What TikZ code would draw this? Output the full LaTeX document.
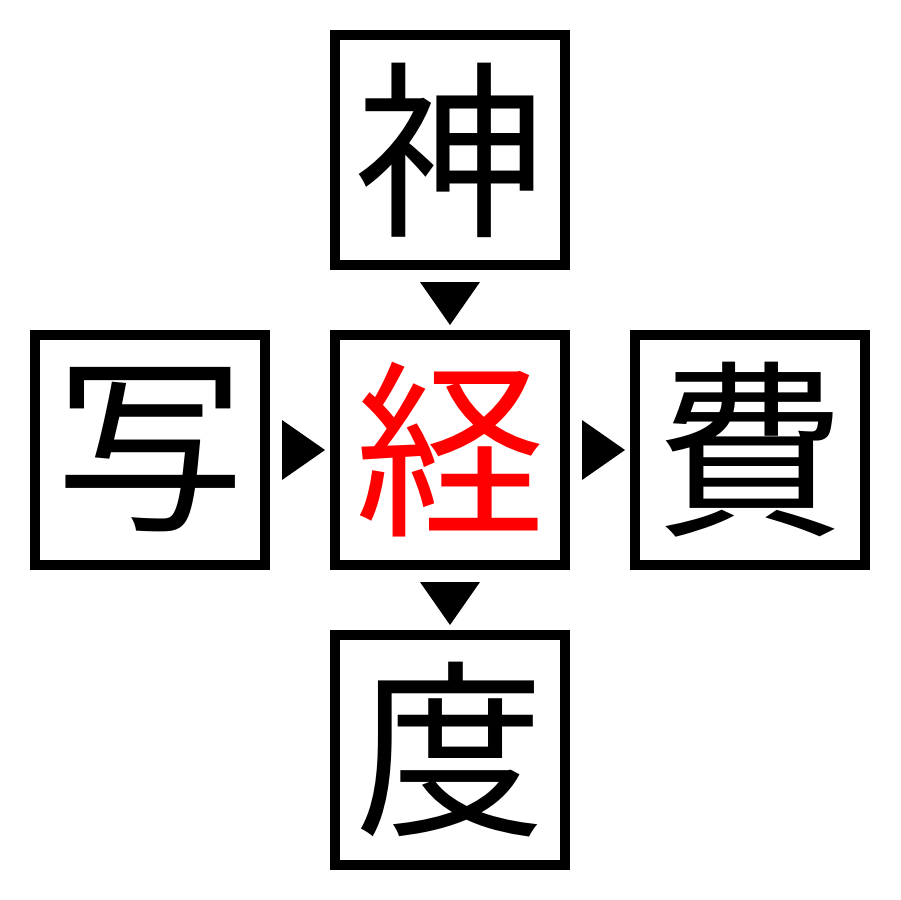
\documentclass[tikz,border=0pt]{standalone}
\usepackage{fontspec}
\newfontfamily\jpfont{Noto Sans CJK JP}
\begin{document}
\begin{tikzpicture}[x=0.02cm,y=-0.02cm,
  cell/.style={draw=black,line width=0.2cm,minimum width=4.6cm,minimum height=4.6cm,inner sep=0pt,font=\jpfont\fontsize{108}{108}\selectfont},
  tri/.style={fill=black,draw=none}]
\useasboundingbox (0,0) rectangle (900,900);
\node[cell] (top) at (450,150) {神};
\node[cell] (left) at (150,450) {写};
\node[cell,text=red] (mid) at (450,450) {経};
\node[cell] (right) at (750,450) {費};
\node[cell] (bot) at (450,750) {度};
\path (top.south) -- (mid.north) coordinate[midway,yshift=-0.07cm] (t1);
\path (left.east) -- (mid.west) coordinate[midway,xshift=0.07cm] (t2);
\path (mid.east) -- (right.west) coordinate[midway,xshift=0.07cm] (t3);
\path (mid.south) -- (bot.north) coordinate[midway,yshift=-0.07cm] (t4);
\fill[tri] ([xshift=-0.6cm,yshift=0.43cm]t1) -- ([xshift=0.6cm,yshift=0.43cm]t1) -- ([yshift=-0.43cm]t1) -- cycle;
\fill[tri] ([xshift=-0.6cm,yshift=0.43cm]t4) -- ([xshift=0.6cm,yshift=0.43cm]t4) -- ([yshift=-0.43cm]t4) -- cycle;
\fill[tri] ([xshift=-0.43cm,yshift=0.6cm]t2) -- ([xshift=-0.43cm,yshift=-0.6cm]t2) -- ([xshift=0.43cm]t2) -- cycle;
\fill[tri] ([xshift=-0.43cm,yshift=0.6cm]t3) -- ([xshift=-0.43cm,yshift=-0.6cm]t3) -- ([xshift=0.43cm]t3) -- cycle;
\end{tikzpicture}
\end{document}
